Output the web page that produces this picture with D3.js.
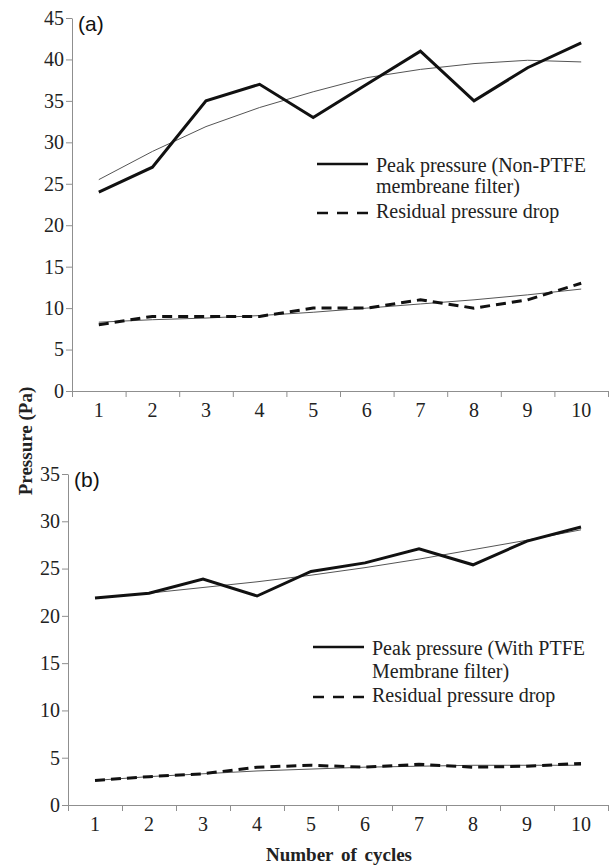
<!DOCTYPE html>
<html>
<head>
<meta charset="utf-8">
<script src="https://cdn.jsdelivr.net/npm/d3@7"></script>
<style>
  body { margin: 0; background: #fff; }
  svg { display: block; }
</style>
</head>
<body>
<div class="chart"></div>
<script>
// data
const cycles = [1, 2, 3, 4, 5, 6, 7, 8, 9, 10];

const peakA = [24, 27, 35, 37, 33, 37, 41, 35, 39, 42];
const peakFitA = [25.5, 28.9, 31.9, 34.2, 36.1, 37.8, 38.8, 39.5, 39.9, 39.7];
const residA = [8, 9, 9, 9, 10, 10, 11, 10, 11, 13];
const residFitA = [8.3, 8.6, 8.8, 9.1, 9.5, 10, 10.5, 11, 11.6, 12.3];
const yTicksA = [0, 5, 10, 15, 20, 25, 30, 35, 40, 45];

const peakB = [21.9, 22.4, 23.9, 22.1, 24.7, 25.6, 27.1, 25.4, 27.9, 29.4];
const peakFitB = [21.9, 22.4, 23.0, 23.6, 24.3, 25.1, 26.0, 27.0, 28.0, 29.1];
const residB = [2.6, 3.0, 3.3, 4.0, 4.2, 4.0, 4.3, 4.0, 4.1, 4.4];
const residFitB = [2.6, 3.0, 3.3, 3.6, 3.8, 4.0, 4.1, 4.2, 4.2, 4.2];
const yTicksB = [0, 5, 10, 15, 20, 25, 30, 35];

const legendA = ['Peak pressure (Non-PTFE', 'membreane filter)', 'Residual pressure drop'];
const legendB = ['Peak pressure (With PTFE', 'Membrane filter)', 'Residual pressure drop'];

const width = 610, height = 867;
const serif = '"Liberation Serif", "Times New Roman", serif';
const sans = '"Liberation Sans", Arial, sans-serif';
const axisColor = '#8f8f8f';

const svg = d3.select('.chart')
    .append('svg')
    .attr('width', width)
    .attr('height', height);

function drawPanel(p) {
    const x = d3.scaleLinear().domain([0.5, 10.5]).range([p.left, 608]);
    const y = d3.scaleLinear().domain([0, p.max]).range([p.bottom, p.top]);
    const g = svg.append('g');

    // x axis: ticks sit between the categories
    const xAxis = g.append('g')
        .attr('transform', `translate(0,${p.bottom})`)
        .call(d3.axisBottom(x)
            .tickValues(d3.range(0.5, 11, 1))
            .tickFormat('')
            .tickSizeInner(6)
            .tickSizeOuter(0));
    xAxis.selectAll('path, line').attr('stroke', axisColor);

    g.selectAll('.xlab')
        .data(cycles)
        .enter()
        .append('text')
        .attr('x', d => x(d))
        .attr('y', p.bottom + 26)
        .attr('text-anchor', 'middle')
        .attr('font-family', serif)
        .attr('font-size', 20)
        .attr('fill', '#222')
        .text(d => d);

    const yAxis = g.append('g')
        .attr('transform', `translate(${p.left},0)`)
        .call(d3.axisLeft(y)
            .tickValues(p.ticks)
            .tickSizeInner(6)
            .tickSizeOuter(0)
            .tickPadding(2));
    yAxis.selectAll('path, line').attr('stroke', axisColor);
    yAxis.selectAll('text')
        .attr('font-family', serif)
        .attr('font-size', 20)
        .attr('fill', '#222');

    const line = d3.line().x((d, i) => x(cycles[i])).y(d => y(d));

    g.append('path').datum(p.peakFit).attr('d', line)
        .attr('fill', 'none').attr('stroke', '#555').attr('stroke-width', 1);
    g.append('path').datum(p.residFit).attr('d', line)
        .attr('fill', 'none').attr('stroke', '#555').attr('stroke-width', 1);
    g.append('path').datum(p.peak).attr('d', line)
        .attr('fill', 'none').attr('stroke', '#111').attr('stroke-width', 3);
    g.append('path').datum(p.resid).attr('d', line)
        .attr('fill', 'none').attr('stroke', '#111').attr('stroke-width', 3)
        .attr('stroke-dasharray', '10,6');

    // panel label
    g.append('text')
        .attr('x', p.left + 6)
        .attr('y', p.top + 13)
        .attr('font-family', sans)
        .attr('font-size', 21)
        .attr('fill', '#111')
        .text(p.label);

    // legend
    const lg = p.legend;
    g.append('line')
        .attr('x1', lg.x).attr('x2', lg.x + 51)
        .attr('y1', lg.y1).attr('y2', lg.y1)
        .attr('stroke', '#111').attr('stroke-width', 2.5);
    g.append('line')
        .attr('x1', lg.x).attr('x2', lg.x + 51)
        .attr('y1', lg.y3 - 5).attr('y2', lg.y3 - 5)
        .attr('stroke', '#111').attr('stroke-width', 2.5)
        .attr('stroke-dasharray', '11,9');
    const ys = [lg.y1 + 8, lg.y2, lg.y3];
    g.selectAll('.leg')
        .data(p.legendText)
        .enter()
        .append('text')
        .attr('x', lg.x + 59)
        .attr('y', (d, i) => ys[i])
        .attr('font-family', serif)
        .attr('font-size', 20)
        .attr('fill', '#222')
        .text(d => d);
}

drawPanel({
    left: 72, top: 18, bottom: 391, max: 45, ticks: yTicksA,
    peak: peakA, peakFit: peakFitA, resid: residA, residFit: residFitA,
    label: '(a)', legendText: legendA,
    legend: { x: 317, y1: 164, y2: 193, y3: 218 }
});

drawPanel({
    left: 68, top: 474, bottom: 805, max: 35, ticks: yTicksB,
    peak: peakB, peakFit: peakFitB, resid: residB, residFit: residFitB,
    label: '(b)', legendText: legendB,
    legend: { x: 313, y1: 647, y2: 678, y3: 702 }
});

// axis titles
svg.append('text')
    .attr('transform', 'translate(32,441) rotate(-90)')
    .attr('text-anchor', 'middle')
    .attr('font-family', serif)
    .attr('font-size', 19)
    .attr('font-weight', 'bold')
    .attr('fill', '#222')
    .text('Pressure (Pa)');

svg.append('text')
    .attr('x', 339)
    .attr('y', 861)
    .attr('text-anchor', 'middle')
    .attr('font-family', serif)
    .attr('font-size', 19)
    .attr('font-weight', 'bold')
    .attr('word-spacing', 3)
    .attr('fill', '#222')
    .text('Number of cycles');
</script>
</body>
</html>
